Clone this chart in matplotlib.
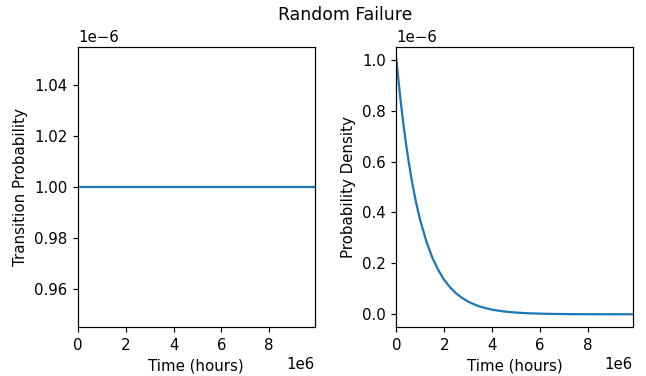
import numpy as np
import matplotlib
matplotlib.use("Agg")
import matplotlib.pyplot as plt

# Time samples (hours) and values
time_hours = [0.0, 0.1e6, 0.2e6, 0.3e6, 0.4e6, 0.5e6, 0.6e6, 0.7e6, 0.8e6, 0.9e6,
              1.0e6, 1.25e6, 1.5e6, 1.75e6, 2.0e6, 2.25e6,
              2.5e6, 2.75e6, 3.0e6, 3.25e6, 3.5e6, 3.75e6, 4.0e6, 4.5e6, 5.0e6, 5.5e6,
              6.0e6, 6.5e6, 7.0e6, 7.5e6, 8.0e6, 8.5e6, 9.0e6, 9.5e6, 9.9e6]
transition_prob = [1.0e-6] * len(time_hours)
prob_density = [1.000e-6, 0.905e-6, 0.819e-6, 0.741e-6, 0.670e-6, 0.607e-6, 0.549e-6,
                0.497e-6, 0.449e-6, 0.407e-6,
                0.368e-6, 0.287e-6, 0.223e-6,
                0.174e-6, 0.135e-6, 0.105e-6, 0.082e-6, 0.064e-6, 0.050e-6, 0.039e-6,
                0.030e-6, 0.024e-6, 0.018e-6, 0.011e-6, 0.0067e-6, 0.0041e-6, 0.0025e-6,
                0.0015e-6, 0.0009e-6, 0.00055e-6, 0.00034e-6, 0.0002e-6, 0.00012e-6,
                0.00007e-6, 0.00005e-6]

DPI = 108
fig, (ax1, ax2) = plt.subplots(1, 2, figsize=(646 / DPI, 376 / DPI), dpi=DPI)
fig.suptitle("Random Failure", x=345 / 646, y=1 - 6 / 376, fontsize=11.5)

ax1.plot(time_hours, transition_prob)
ax1.set_xlabel("Time (hours)")
ax1.set_ylabel("Transition Probability")
ax1.set_xlim(time_hours[0], time_hours[-1])

ax2.plot(time_hours, prob_density)
ax2.set_xlabel("Time (hours)")
ax2.set_ylabel("Probability Density")
ax2.set_xlim(time_hours[0], time_hours[-1])

fig.subplots_adjust(left=78 / 646, right=633 / 646, top=1 - 47 / 376,
                    bottom=1 - 327 / 376, wspace=82 / 237)
fig.savefig("out.png", dpi=DPI)
